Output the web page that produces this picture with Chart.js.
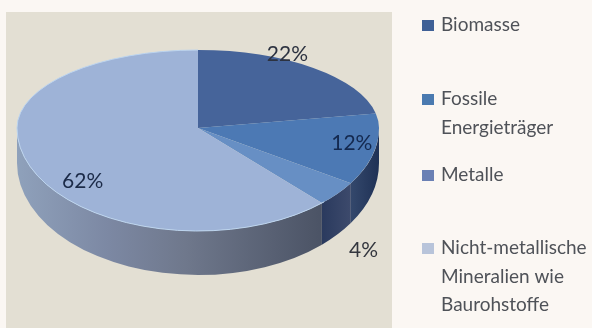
<!DOCTYPE html>
<html>
<head>
<meta charset="utf-8">
<script src="https://cdn.jsdelivr.net/npm/chart.js@4/dist/chart.umd.min.js"></script>
<style>
  html, body { margin: 0; padding: 0; background: #fbf7f3; }
  #panel { position: absolute; left: 6px; top: 12px; width: 386px; height: 316px; background: #e3dfd3; }
  #wrap { position: absolute; left: 0; top: 0; width: 592px; height: 328px; }
</style>
</head>
<body>
<div id="panel"></div>
<div id="wrap"><canvas id="pieChart" width="592" height="328"></canvas></div>
<script>
/******************************************************
 * DATA
 ******************************************************/
const categories = ["Biomasse", "Fossile Energieträger", "Metalle", "Nicht-metallische Mineralien wie Baurohstoffe"];
const shares = [22, 12, 4, 62];
const legendLines = [["Biomasse"], ["Fossile", "Energieträger"], ["Metalle"], ["Nicht-metallische", "Mineralien wie", "Baurohstoffe"]];
const topColors = ["#46649a", "#4c79b4", "#678fc4", "#9eb3d7"];
const markerColors = ["#3f6096", "#4a7ab0", "#6a80b4", "#b8c4da"];

/******************************************************
 * LAYOUT
 ******************************************************/
const pie = { cx: 198, cy: 128, rx: 181, ryTop: 78, ryBottom: 103 };
const base = { cy: 163, ry: 112 };
const labelOffsets = [[-26, -14], [-24, -4], [26, 57], [53, 15]];
const labelColors = ["#2c3240", "#14294f", "#33363e", "#1b2a47"];
const legendY = [25, 99, 175, 248];
const legendStep = 28.5;

// side wall stops, left to right, for each slice
const wallStops = [
  null,
  [[0, "#34486c"], [1, "#1f3155"]],
  [[0, "#2a3a5e"], [1, "#3d4a6c"]],
  [[0, "#8fa1bb"], [0.3, "#7c88a3"], [0.55, "#6f788c"], [1, "#4b5365"]]
];

/******************************************************
 * PLUGINS
 ******************************************************/
// the flat pie is drawn in two passes so the front half can be deeper than the back
const tiltedPie = {
  id: "tiltedPie",
  beforeDatasetDraw(chart, args) {
    const ctx = chart.ctx;
    const meta = chart.getDatasetMeta(args.index);
    const arc = meta.data[0];
    const r = arc.outerRadius;

    drawWall(ctx, meta);

    [[pie.ryTop, pie.cy - pie.ryTop - 2, pie.ryTop + 2], [pie.ryBottom, pie.cy, pie.ryBottom + 2]].forEach(([ry, y, h]) => {
      ctx.save();
      ctx.beginPath();
      ctx.rect(0, y, chart.width, h);
      ctx.clip();
      ctx.translate(pie.cx, pie.cy);
      ctx.scale(pie.rx / r, ry / r);
      ctx.translate(-arc.x, -arc.y);
      meta.controller.draw();
      ctx.restore();
    });

    // pale highlight along the rim
    ctx.save();
    ctx.strokeStyle = "#bcd4ee";
    ctx.lineWidth = 1;
    ctx.beginPath();
    ctx.ellipse(pie.cx, pie.cy, pie.rx, pie.ryBottom, 0, 0.8, Math.PI);
    ctx.stroke();
    ctx.beginPath();
    ctx.ellipse(pie.cx, pie.cy, pie.rx, pie.ryTop, 0, Math.PI, Math.PI * 1.5);
    ctx.stroke();
    ctx.restore();
    return false;
  },
  afterDatasetsDraw(chart) {
    const ctx = chart.ctx;
    const meta = chart.getDatasetMeta(0);
    ctx.save();
    ctx.font = "21px Lato";
    ctx.textAlign = "center";
    ctx.textBaseline = "middle";
    meta.data.forEach((arc, i) => {
      const mid = (arc.startAngle + arc.endAngle) / 2;
      const ry = Math.sin(mid) > 0 ? pie.ryBottom : pie.ryTop;
      const x = pie.cx + pie.rx * Math.cos(mid) + labelOffsets[i][0];
      const y = pie.cy + ry * Math.sin(mid) + labelOffsets[i][1];
      ctx.fillStyle = labelColors[i];
      ctx.fillText(shares[i] + "%", x, y);
    });
    ctx.restore();
  }
};

function drawWall(ctx, meta) {
  meta.data.forEach((arc, i) => {
    // only the front half of the rim has a visible wall
    const a = Math.max(arc.startAngle, 0);
    const b = Math.min(arc.endAngle, Math.PI);
    if (b <= a) return;

    const x1 = pie.cx + pie.rx * Math.cos(a);
    const x2 = pie.cx + pie.rx * Math.cos(b);
    const grad = ctx.createLinearGradient(Math.min(x1, x2), 0, Math.max(x1, x2), 0);
    wallStops[i].forEach(s => grad.addColorStop(s[0], s[1]));

    ctx.beginPath();
    ctx.ellipse(pie.cx, pie.cy, pie.rx, pie.ryBottom, 0, a, b);
    ctx.ellipse(pie.cx, base.cy, pie.rx, base.ry, 0, b, a, true);
    ctx.closePath();
    ctx.fillStyle = grad;
    ctx.fill();
  });
}

// legend entries wrap and sit at uneven heights, so they are laid out by hand
const sideLegend = {
  id: "sideLegend",
  afterDraw(chart) {
    const ctx = chart.ctx;
    ctx.save();
    ctx.font = "19px Lato";
    ctx.textBaseline = "middle";
    legendLines.forEach((lines, i) => {
      ctx.fillStyle = markerColors[i];
      ctx.fillRect(422, legendY[i] - 5, 12, 11);
      ctx.fillStyle = "#4f5258";
      lines.forEach((line, j) => ctx.fillText(line, 441, legendY[i] + j * legendStep));
    });
    ctx.restore();
  }
};

/******************************************************
 * CHART
 ******************************************************/
new Chart(document.getElementById("pieChart").getContext("2d"), {
  type: "pie",
  data: {
    labels: categories,
    datasets: [{
      data: shares,
      backgroundColor: topColors,
      borderWidth: 0
    }]
  },
  options: {
    responsive: false,
    animation: false,
    plugins: {
      legend: { display: false },
      tooltip: { enabled: false }
    }
  },
  plugins: [tiltedPie, sideLegend]
});
</script>
</body>
</html>
